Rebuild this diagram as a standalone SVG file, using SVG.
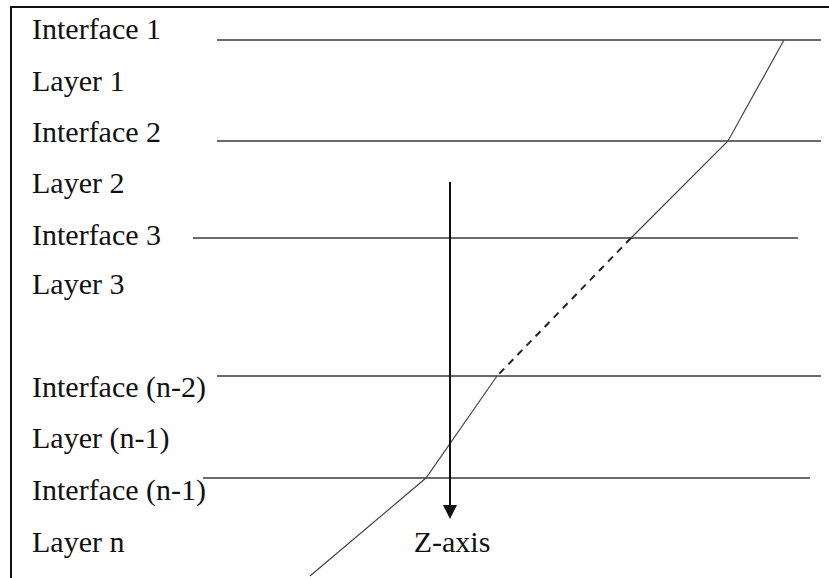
<svg xmlns="http://www.w3.org/2000/svg" width="829" height="578" viewBox="0 0 829 578">
<style>
.lbl{font-family:'Liberation Serif','Times New Roman',Times,serif;font-size:30px;fill:#111}
.frame{stroke:#111;stroke-width:2;fill:none}
.iface{stroke:#3a3a3a;stroke-width:1.6;fill:none}
.ray{stroke:#444;stroke-width:1.2;fill:none}
.dash{stroke:#222;stroke-width:2;stroke-dasharray:7,6;fill:none}
.axis{stroke:#111;stroke-width:2;fill:none}
</style>
<defs>
<marker id="ah" markerWidth="14" markerHeight="14" refX="7" refY="0" orient="0" markerUnits="userSpaceOnUse" viewBox="0 0 14 14">
<path d="M0,0 L14,0 L7,14 Z" fill="#111"/>
</marker>
</defs>
<rect width="829" height="578" fill="#fff"/>
<g id="frame">
<path class="frame" d="M11,578 L11,7 L829,7"/>
</g>
<g id="labels" class="lbl" font-family="Liberation Serif, serif">
<text x="32" y="39">Interface 1</text>
<text x="32" y="91">Layer 1</text>
<text x="32" y="142">Interface 2</text>
<text x="32" y="193">Layer 2</text>
<text x="32" y="245">Interface 3</text>
<text x="32" y="294">Layer 3</text>
<text x="32" y="397">Interface (n-2)</text>
<text x="32" y="448">Layer (n-1)</text>
<text x="32" y="500">Interface (n-1)</text>
<text x="32" y="552">Layer n</text>
</g>
<g id="interfaces">
<line class="iface" x1="217" y1="40" x2="821" y2="40"/>
<line class="iface" x1="217" y1="141" x2="821" y2="141"/>
<line class="iface" x1="193" y1="238" x2="798" y2="238"/>
<line class="iface" x1="217" y1="376" x2="821" y2="376"/>
<line class="iface" x1="203" y1="478" x2="810" y2="478"/>
</g>
<g id="connectors">
<polyline class="ray" points="784,40 728,141 631,238"/>
<line class="dash" x1="631" y1="238" x2="497" y2="376"/>
<polyline class="ray" points="497,376 426,478 310,576"/>
<line class="axis" x1="450" y1="182" x2="450" y2="505" marker-end="url(#ah)"/>
</g>
<g id="zaxis" class="lbl" font-family="Liberation Serif, serif">
<text x="452" y="552" text-anchor="middle">Z-axis</text>
</g>
</svg>
